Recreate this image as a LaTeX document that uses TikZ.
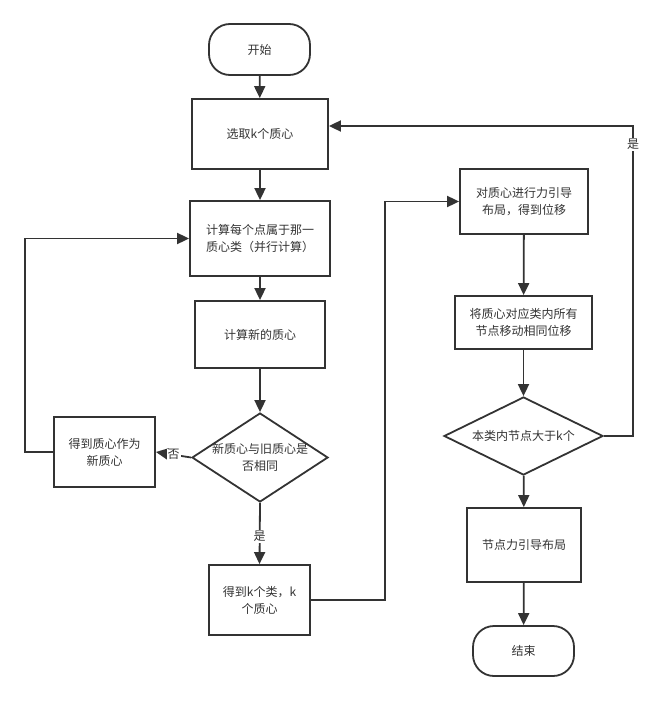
\documentclass[tikz,border=0pt]{standalone}
\usepackage{fontspec}
\setmainfont{Noto Sans CJK SC}
\usetikzlibrary{arrows.meta,shapes.geometric}
\definecolor{ln}{HTML}{333333}
\definecolor{tx}{HTML}{333333}
\begin{document}
\begin{tikzpicture}[x=1pt,y=-1pt,
 every node/.style={font=\fontsize{12}{17}\selectfont, text=tx},
 box/.style={draw=ln, line width=1.8pt, rectangle, inner sep=0pt, align=center},
 term/.style={box, rounded corners=21pt},
 dec/.style={draw=ln, line width=1.8pt, diamond, inner sep=0pt},
 conn/.style={draw=ln, line width=1.8pt, -{Triangle[length=12pt,width=11pt]}},
 wire/.style={draw=ln, line width=1.8pt},
 lbl/.style={fill=white, inner sep=1pt}]
\useasboundingbox (0,0) rectangle (657,701);
% left column
\node[term, minimum width=101pt, minimum height=51pt] (start) at (259.5,49.5) {开始};
\node[box, minimum width=136pt, minimum height=70pt] (sel) at (260,134) {选取k个质心};
\node[box, minimum width=140pt, minimum height=75pt] (calc) at (260,238.5) {计算每个点属于那一\\质心类（并行计算）};
\node[box, minimum width=130pt, minimum height=67pt] (newc) at (260,334.5) {计算新的质心};
\node[dec, minimum width=136pt, minimum height=89pt] (d1) at (260,457.5) {};
\node (d1t) at (d1.center) [align=center] {新质心与旧质心是\\否相同};
\node[box, minimum width=101pt, minimum height=70pt] (oldc) at (104.5,452) {得到质心作为\\新质心};
\node[box, minimum width=101pt, minimum height=70pt] (kc) at (259.5,600) {得到k个类，k\\个质心};
% right column
\node[box, minimum width=128pt, minimum height=65pt] (fd) at (524,201.5) {对质心进行力引导\\布局，得到位移};
\node[box, minimum width=137pt, minimum height=53pt] (mv) at (523.5,322.5) {将质心对应类内所有\\节点移动相同位移};
\node[dec, minimum width=159pt, minimum height=78pt] (d2) at (523.5,436) {};
\node (d2t) at (d2.center) {本类内节点大于k个};
\node[box, minimum width=114pt, minimum height=74pt] (nf) at (524,545) {节点力引导布局};
\node[term, minimum width=101pt, minimum height=50pt] (end) at (523.5,651) {结束};
% helper coordinates
\coordinate (lx) at (25,452);
\coordinate (mx) at (385,600);
\coordinate (rtop) at (633,126);
% connectors
\draw[conn] (start) -- (sel);
\draw[conn] (sel) -- (calc);
\draw[conn] (calc) -- (newc);
\draw[conn] (newc) -- (d1);
\draw[conn] (d1.west) -- node[lbl, pos=0.5] (no) {否} (oldc.east);
\draw[conn] (oldc.west) -- (lx) |- (calc.west);
\draw[conn] (d1.south) -- node[lbl, pos=0.55] (yes1) {是} (kc.north);
\draw[conn] (kc.east) -- (mx) |- (fd.west);
\draw[conn] (fd) -- (mv);
\draw[conn] (mv) -- (d2);
\draw[conn] (d2.east) -| node[lbl, pos=0.97] (yes2) {是} (rtop) -- (sel.east |- rtop);
\draw[conn] (d2) -- (nf);
\draw[conn] (nf) -- (end);
\end{tikzpicture}
\end{document}
